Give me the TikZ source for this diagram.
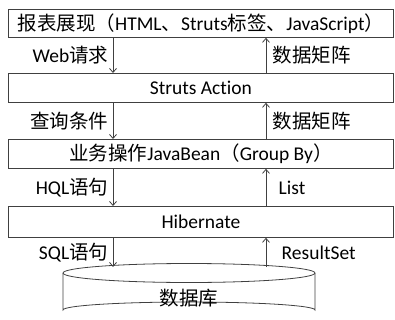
\documentclass[tikz,border=0pt]{standalone}
\usepackage{fontspec}
\setmainfont{Carlito}[Ligatures=NoCommon]
\newfontfamily\zh{Noto Sans CJK SC}
\usetikzlibrary{arrows.meta, positioning}

\begin{document}
\begin{tikzpicture}[
  x=1pt, y=-1pt,
  font=\fontsize{19.5}{22}\selectfont,
  line width=0.8pt,
  layer/.style={draw=black!75, minimum width=385pt, inner sep=0pt, anchor=north west},
  flow/.style={draw=black!75, -{Straight Barb[length=4pt, width=7pt]}}
]

\useasboundingbox (0,0) rectangle (395,320);

% ------------------- Layers ------------------- %
\node[layer, minimum height=28pt] (view) at (8,9)
  {{\zh 报表展现（}HTML{\zh 、}Struts{\zh 标签、}JavaScript{\zh ）}};
\node[layer, minimum height=29pt] (action) at (8,73) {Struts Action};
\node[layer, minimum height=29pt] (bean) at (8,139)
  {{\zh 业务操作}JavaBean{\zh （}Group By{\zh ）}};
\node[layer, minimum height=31pt] (hib) at (8,206) {Hibernate};

% ------------------- Database ------------------- %
\draw[black!75] (63,273) -- (63,310) arc[start angle=180, end angle=360, x radius=126, y radius=8]
  -- (315,273);
\draw[black!75] (189,273) ellipse (126 and 9.5);
\node (db) at (189,298) {\zh 数据库};

% arrow columns
\coordinate (down) at (113,0);
\coordinate (up) at (266,0);
\coordinate (dbin) at (113,267);
\coordinate (dbout) at (266,267);

% ------------------- Requests (down) ------------------- %
\draw[flow] (view.south -| down) -- node[left=1pt] {Web{\zh 请求}} (action.north -| down);
\draw[flow] (action.south -| down) -- node[left=1pt] {\zh 查询条件} (bean.north -| down);
\draw[flow] (bean.south -| down) -- node[left=1pt] {HQL{\zh 语句}} (hib.north -| down);
\draw[flow] (hib.south -| down) -- node[left=1pt] {SQL{\zh 语句}} (dbin);

% ------------------- Results (up) ------------------- %
\draw[flow] (action.north -| up) -- node[right=3pt] {\zh 数据矩阵} (view.south -| up);
\draw[flow] (bean.north -| up) -- node[right=3pt] {\zh 数据矩阵} (action.south -| up);
\draw[flow] (hib.north -| up) -- node[right=9pt] {List} (bean.south -| up);
\draw[flow] (dbout) -- node[right=12pt] {ResultSet} (hib.south -| up);

\end{tikzpicture}
\end{document}
